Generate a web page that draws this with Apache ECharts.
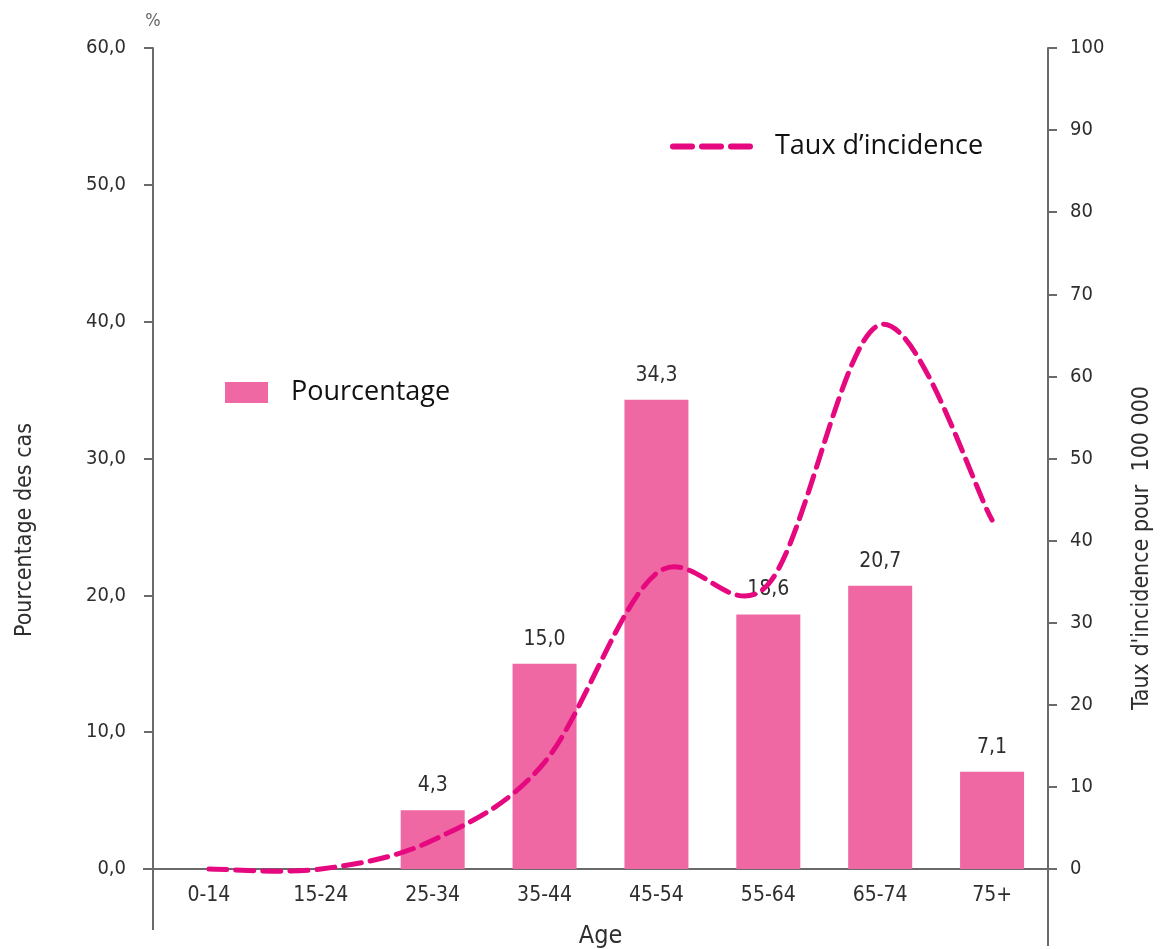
<!DOCTYPE html>
<html>
<head>
<meta charset="utf-8">
<title>Pourcentage des cas et taux d'incidence par âge</title>
<script src="https://cdn.jsdelivr.net/npm/echarts@6/dist/echarts.min.js"></script>
<style>
  html, body { margin: 0; padding: 0; background: #ffffff; }
  #chart { width: 1161px; height: 949px; }
</style>
</head>
<body>
<div id="chart"></div>
<script>
// Age groups
const ageGroups = ['0-14', '15-24', '25-34', '35-44', '45-54', '55-64', '65-74', '75+'];
// Share of cases (%) per age group
const pourcentage = [0, 0, 4.3, 15.0, 34.3, 18.6, 20.7, 7.1];
// Incidence rate per 100 000
const tauxIncidence = [0, 0, 3.5, 13, 36, 34.7, 66.3, 42.5];
// Axis scales
const leftAxisTicks = [0, 10, 20, 30, 40, 50, 60];
const rightAxisTicks = [0, 10, 20, 30, 40, 50, 60, 70, 80, 90, 100];

const NARROW = '"DejaVu Sans Condensed", "Liberation Sans Narrow", sans-serif';
const LEGEND_FONT = '"Open Sans", sans-serif';
const TEXT = '#2e2e2e';
const AXIS = '#6a6a6a';
const BAR = '#EF68A4';
const LINE = '#E6087F';

const fr1 = v => v.toFixed(1).replace('.', ',');

// Smooth dashed curve through the incidence points (cardinal spline, tension 1/6)
function renderIncidence(params, api) {
  if (params.dataIndex !== 0) return null;
  const pts = tauxIncidence.map((v, i) => api.coord([i, v]));
  const n = pts.length;
  let d = 'M' + pts[0][0] + ',' + pts[0][1];
  for (let i = 0; i < n - 1; i++) {
    const p0 = pts[Math.max(i - 1, 0)];
    const p1 = pts[i];
    const p2 = pts[i + 1];
    const p3 = pts[Math.min(i + 2, n - 1)];
    const c1x = p1[0] + (p2[0] - p0[0]) / 6;
    const c1y = p1[1] + (p2[1] - p0[1]) / 6;
    const c2x = p2[0] - (p3[0] - p1[0]) / 6;
    const c2y = p2[1] - (p3[1] - p1[1]) / 6;
    d += ' C' + c1x + ',' + c1y + ' ' + c2x + ',' + c2y + ' ' + p2[0] + ',' + p2[1];
  }
  return {
    type: 'path',
    shape: { pathData: d },
    style: { fill: 'none', stroke: LINE, lineWidth: 5, lineDash: [18, 9], lineCap: 'round' }
  };
}

const chart = echarts.init(document.getElementById('chart'), null, { renderer: 'canvas' });

chart.setOption({
  backgroundColor: '#ffffff',
  animation: false,
  grid: { left: 153, right: 113, top: 48, bottom: 80, outerBoundsMode: 'none', containLabel: false },
  legend: [
    {
      data: [{ name: 'Pourcentage', icon: 'rect' }],
      left: 220, top: 374,
      itemWidth: 43, itemHeight: 21,
      textStyle: { fontFamily: LEGEND_FONT, fontSize: 27, color: '#111111', padding: [0, 0, 0, 18] }
    },
    {
      data: [{ name: 'Taux d\u2019incidence', icon: 'path://M3,0h19a3,3 0 0 1 0,6h-19a3,3 0 0 1 0,-6z M32,0h19a3,3 0 0 1 0,6h-19a3,3 0 0 1 0,-6z M61,0h19a3,3 0 0 1 0,6h-19a3,3 0 0 1 0,-6z' }],
      left: 665, top: 128,
      itemWidth: 85, itemHeight: 6,
      textStyle: { fontFamily: LEGEND_FONT, fontSize: 27, color: '#111111', padding: [0, 0, 0, 16] }
    }
  ],
  xAxis: {
    type: 'category',
    data: ageGroups,
    name: 'Age',
    nameLocation: 'middle',
    nameGap: 55,
    nameTextStyle: { fontFamily: NARROW, fontSize: 25, color: TEXT },
    axisLine: { lineStyle: { color: AXIS, width: 2 } },
    axisTick: { show: false },
    axisLabel: { fontFamily: NARROW, fontSize: 21, color: TEXT, margin: 16 }
  },
  yAxis: [
    {
      type: 'value',
      min: leftAxisTicks[0],
      max: leftAxisTicks[leftAxisTicks.length - 1],
      interval: leftAxisTicks[1] - leftAxisTicks[0],
      position: 'left',
      name: '%',
      nameLocation: 'end',
      nameGap: 18,
      nameTextStyle: { fontFamily: NARROW, fontSize: 18, color: '#666666', align: 'center' },
      axisLine: { show: true, lineStyle: { color: AXIS, width: 2 } },
      axisTick: { show: true, length: 9, lineStyle: { color: AXIS, width: 2 } },
      axisLabel: { fontFamily: NARROW, fontSize: 20, color: TEXT, margin: 27, formatter: fr1 },
      splitLine: { show: false }
    },
    {
      type: 'value',
      min: rightAxisTicks[0],
      max: rightAxisTicks[rightAxisTicks.length - 1],
      interval: rightAxisTicks[1] - rightAxisTicks[0],
      position: 'right',
      axisLine: { show: true, lineStyle: { color: AXIS, width: 2 } },
      axisTick: { show: true, length: 9, lineStyle: { color: AXIS, width: 2 } },
      axisLabel: { fontFamily: NARROW, fontSize: 20, color: TEXT, margin: 22 },
      splitLine: { show: false }
    }
  ],
  series: [
    {
      name: 'Pourcentage',
      type: 'bar',
      yAxisIndex: 0,
      data: pourcentage,
      barWidth: 64,
      itemStyle: { color: BAR },
      label: {
        show: true,
        position: 'top',
        distance: 14,
        fontFamily: NARROW,
        fontSize: 21,
        color: TEXT,
        formatter: p => (p.value > 0 ? fr1(p.value) : '')
      },
      z: 2
    },
    {
      name: 'Taux d\u2019incidence',
      type: 'custom',
      yAxisIndex: 1,
      data: tauxIncidence.map((v, i) => [i, v]),
      encode: { x: 0, y: 1 },
      itemStyle: { color: LINE },
      renderItem: renderIncidence,
      z: 3
    }
  ],
  graphic: [
    // axis lines running below the baseline
    { type: 'line', shape: { x1: 153, y1: 869, x2: 153, y2: 930 }, style: { stroke: AXIS, lineWidth: 2 } },
    { type: 'line', shape: { x1: 1048, y1: 869, x2: 1048, y2: 946 }, style: { stroke: AXIS, lineWidth: 2 } },
    { type: 'line', shape: { x1: 143, y1: 869, x2: 1057, y2: 869 }, style: { stroke: AXIS, lineWidth: 2 }, z: 1 },
    // axis titles
    {
      type: 'text', x: 25, y: 530, rotation: Math.PI / 2,
      style: { text: 'Pourcentage des cas', fontFamily: NARROW, fontSize: 23, fill: TEXT, align: 'center', verticalAlign: 'middle' }
    },
    {
      type: 'text', x: 1142, y: 548, rotation: Math.PI / 2,
      style: { text: 'Taux d\'incidence pour  100 000', fontFamily: NARROW, fontSize: 23, fill: TEXT, align: 'center', verticalAlign: 'middle' }
    }
  ]
});
</script>
</body>
</html>
